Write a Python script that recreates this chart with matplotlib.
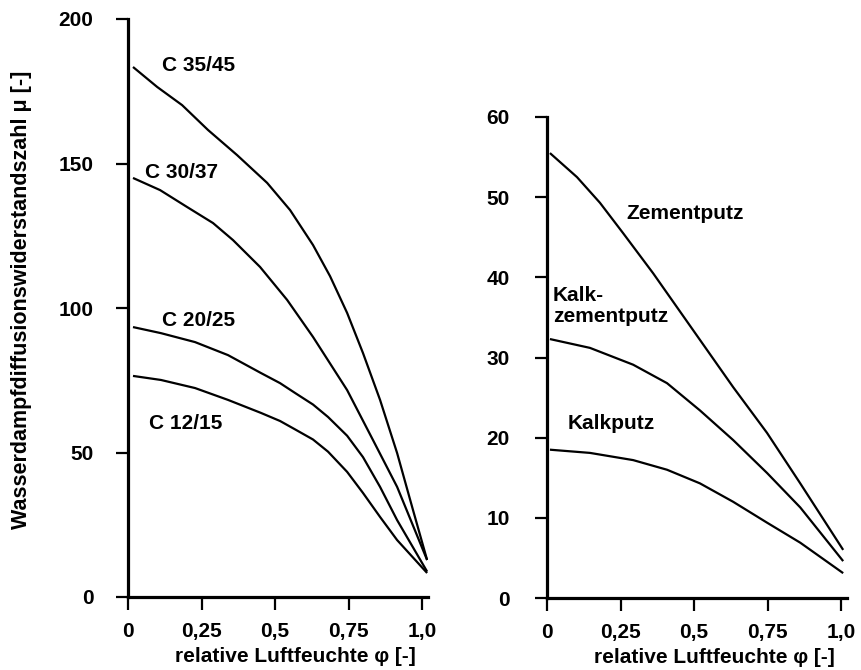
import matplotlib
matplotlib.use("Agg")
import matplotlib.pyplot as plt

plt.rcParams['font.family'] = ['Liberation Sans', 'DejaVu Sans']
plt.rcParams['font.weight'] = 'bold'

# ---- Left chart: concrete ----
c3545_x = [0.017, 0.099, 0.184, 0.272, 0.371, 0.473, 0.551, 0.629, 0.687, 0.745, 0.799, 0.857, 0.915, 0.969, 1.017]
c3545_y = [183.4, 176.5, 170.2, 161.6, 152.9, 143.3, 133.9, 121.8, 111.0, 98.3, 84.4, 68.2, 49.8, 30.1, 12.8]

c3037_x = [0.017, 0.109, 0.200, 0.289, 0.357, 0.449, 0.541, 0.629, 0.745, 0.833, 0.915, 1.017]
c3037_y = [145.0, 140.8, 135.0, 129.4, 123.5, 114.2, 102.8, 90.0, 71.6, 54.3, 38.1, 12.8]

c2025_x = [0.017, 0.112, 0.228, 0.340, 0.452, 0.517, 0.568, 0.629, 0.680, 0.745, 0.799, 0.857, 0.915, 1.017]
c2025_y = [93.4, 91.3, 88.2, 83.7, 77.5, 74.0, 70.6, 66.6, 62.3, 55.8, 48.4, 38.1, 26.6, 8.8]

c1215_x = [0.017, 0.112, 0.228, 0.340, 0.452, 0.517, 0.568, 0.629, 0.680, 0.745, 0.799, 0.857, 0.915, 1.017]
c1215_y = [76.5, 75.1, 72.3, 68.2, 63.7, 60.9, 58.0, 54.5, 50.3, 43.3, 36.0, 27.7, 19.7, 8.3]

left_series = [(c3545_x, c3545_y), (c3037_x, c3037_y), (c2025_x, c2025_y), (c1215_x, c1215_y)]
left_labels = ["C 35/45", "C 30/37", "C 20/25", "C 12/15"]
left_label_pos = [(0.116, 184), (0.058, 147), (0.116, 95.8), (0.071, 60.2)]

# ---- Right chart: plasters ----
zem_x = [0.010, 0.102, 0.180, 0.259, 0.361, 0.497, 0.633, 0.748, 0.861, 1.007]
zem_y = [55.5, 52.5, 49.3, 45.5, 40.5, 33.4, 26.3, 20.6, 14.3, 6.0]

kz_x = [0.010, 0.146, 0.293, 0.408, 0.520, 0.633, 0.748, 0.861, 1.007]
kz_y = [32.3, 31.2, 29.1, 26.8, 23.4, 19.7, 15.6, 11.3, 4.6]

kp_x = [0.010, 0.146, 0.293, 0.408, 0.520, 0.633, 0.748, 0.861, 1.007]
kp_y = [18.5, 18.1, 17.2, 16.0, 14.3, 12.0, 9.4, 6.9, 3.1]

right_series = [(zem_x, zem_y), (kz_x, kz_y), (kp_x, kp_y)]
right_labels = ["Zementputz", "Kalk-\nzementputz", "Kalkputz"]
right_label_pos = [(0.269, 48.0), (0.02, 36.4), (0.071, 21.8)]

x_ticks = [0, 0.25, 0.5, 0.75, 1.0]
x_ticklabels = ["0", "0,25", "0,5", "0,75", "1,0"]
left_yticks = [0, 50, 100, 150, 200]
right_yticks = [0, 10, 20, 30, 40, 50, 60]

W, H = 862, 670
fig = plt.figure(figsize=(W / 100, H / 100), dpi=100)

axL = fig.add_axes([128 / W, (H - 597) / H, 300 / W, 578 / H])
axR = fig.add_axes([547 / W, (H - 598) / H, 300 / W, 481 / H])

FS = 15


def style(ax, ylim, yticks, ypad):
    ax.set_xlim(0, 1.02)
    ax.set_ylim(*ylim)
    for s in ("top", "right"):
        ax.spines[s].set_visible(False)
    for s in ("left", "bottom"):
        ax.spines[s].set_linewidth(2.3)
    ax.set_xticks(x_ticks)
    ax.set_xticklabels(x_ticklabels)
    ax.set_yticks(yticks)
    ax.tick_params(axis="both", direction="out", length=9, width=1.6,
                   labelsize=FS)
    ax.tick_params(axis="y", pad=ypad)
    ax.tick_params(axis="x", pad=9)
    for t in ax.get_xticklabels() + ax.get_yticklabels():
        t.set_fontweight("bold")
    ax.set_xlabel("relative Luftfeuchte φ [-]", fontsize=15,
                  fontweight="bold", labelpad=4, x=0.558)


style(axL, (0, 200), left_yticks, 16)
style(axR, (0, 60), right_yticks, 18)

for (xs, ys) in left_series:
    axL.plot(xs, ys, color="black", lw=1.6, solid_capstyle="butt")
for lab, (x, y) in zip(left_labels, left_label_pos):
    axL.text(x, y, lab, fontsize=FS, fontweight="bold", va="center", ha="left")

for (xs, ys) in right_series:
    axR.plot(xs, ys, color="black", lw=1.6, solid_capstyle="butt")
for lab, (x, y) in zip(right_labels, right_label_pos):
    axR.text(x, y, lab, fontsize=FS, fontweight="bold", va="center", ha="left",
             linespacing=1.1)

fig.text(22 / W, 1 - 300 / H, "Wasserdampfdiffusionswiderstandszahl μ [-]",
         rotation=90, fontsize=15.5, fontweight="bold", va="center", ha="center")

fig.savefig("out.png", dpi=100)
